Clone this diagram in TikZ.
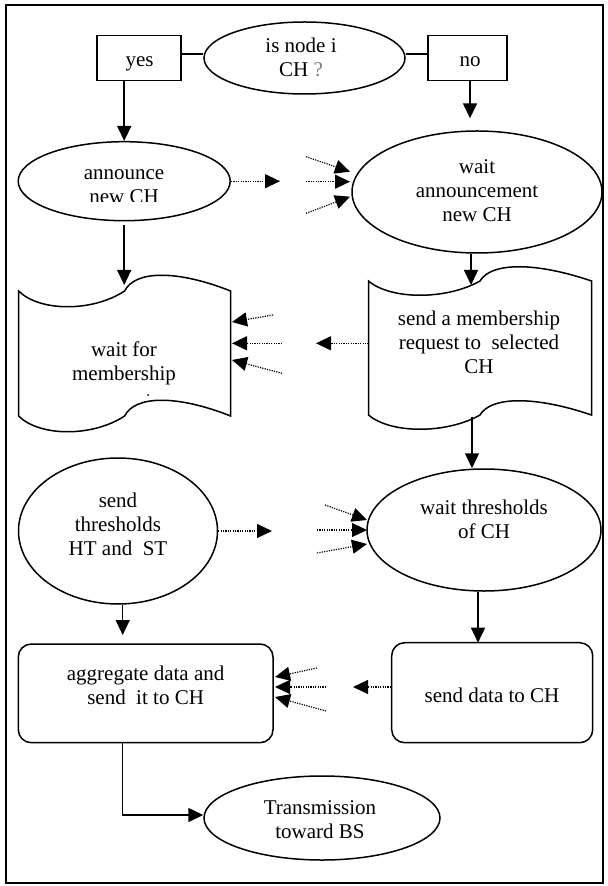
\documentclass[tikz,border=0pt]{standalone}
\usepackage{fontspec}
\setmainfont{Liberation Serif}
\usetikzlibrary{arrows.meta,shapes.geometric,calc}
\tikzset{
  shp/.style={draw, line width=0.75pt, inner sep=0pt},
  ell/.style={shp, ellipse},
  txt/.style={align=center, font=\fontsize{10.5pt}{12pt}\selectfont, inner sep=0pt},
  arr/.style={line width=0.75pt, -{Triangle[length=7.5pt,width=7pt]}},
  darr/.style={line width=0.6pt, dash pattern=on 0.6pt off 0.6pt, -{Triangle[length=7.5pt,width=7pt]}},
}
% L T R H c  (pixel units, y downwards)
\newcommand{\tapepath}[5]{(#1,#2) .. controls ({#1+0.1*(#3-#1)},{#2+#5}) and ({#1+0.35*(#3-#1)},{#2+#5}) .. ({#1+0.5*(#3-#1)},#2)
  .. controls ({#1+0.55*(#3-#1)},{#2-#5}) and ({#1+0.75*(#3-#1)},{#2-#5}) .. (#3,#2)
  -- (#3,{#2+#4})
  .. controls ({#1+0.75*(#3-#1)},{#2+#4-#5}) and ({#1+0.55*(#3-#1)},{#2+#4-#5}) .. ({#1+0.5*(#3-#1)},{#2+#4})
  .. controls ({#1+0.35*(#3-#1)},{#2+#4+#5}) and ({#1+0.1*(#3-#1)},{#2+#4+#5}) .. (#1,{#2+#4}) -- cycle}
\begin{document}
\begin{tikzpicture}[x=0.5pt,y=-0.5pt]
\useasboundingbox (0,0) rectangle (608,886);
\draw[line width=1pt] (5.5,5) rectangle (602.5,883);

% ---- top row
\node[ell, minimum width=100.5pt, minimum height=36pt] (dec) at (304.5,58) {};
\node[txt] (dect) at (301,57.5) {is node i\\CH {\color{gray}?}};
\node[shp, minimum width=42pt, minimum height=22.5pt] (yes) at (139,58.2) {};
\node[txt] (yest) at (139.5,64) {yes};
\node[shp, minimum width=39.5pt, minimum height=22.5pt] (no) at (467.5,58.2) {};
\node[txt] (not) at (470,61.7) {no};
\draw[line width=0.75pt] ([yshift=2pt]yes.east) -- ([yshift=2pt]yes.east -| dec.west);
\draw[line width=0.75pt] ([yshift=2pt]dec.east) -- ([yshift=2pt]dec.east -| no.west);

% ---- announce / wait announcement
\node[ell, minimum width=106pt, minimum height=39.5pt] (ann) at (124.2,181.2) {};
\begin{scope}
  \clip (0,0) rectangle (608,202);
  \node[txt] (annt) at (124,186.2) {announce\\new CH};
\end{scope}
\node[ell, minimum width=125pt, minimum height=61pt] (wann) at (477,192) {};
\node[txt] (wannt) at (477,190.5) {wait\\announcement\\new CH};

% ---- tapes
\draw[line width=0.75pt] \tapepath{18.6}{291}{230.6}{125}{21};
\node[txt] (memb) at (124,363.3) {wait for\\membership};
\fill (148,395) circle (0.5pt);
\draw[line width=0.75pt] \tapepath{368.5}{281}{591.5}{134}{19};
\node[txt] (sreq) at (479,342) {send a membership\\request to~ selected\\CH};

% ---- thresholds
\node[ell, minimum width=99.5pt, minimum height=73pt] (sth) at (118,531) {};
\node[txt] (stht) at (118,524) {send\\thresholds\\HT and~ ST};
\node[ell, minimum width=117pt, minimum height=61pt] (wth) at (484,530) {};
\node[txt] (wtht) at (484,519) {wait thresholds\\of CH};

% ---- data boxes
\node[shp, rounded corners=6.5pt, minimum width=127.35pt, minimum height=49.35pt] (agg) at (145.65,693.35) {};
\node[txt] (aggt) at (145.6,685) {aggregate data and\\send~ it to CH};
\node[shp, rounded corners=6.5pt, minimum width=100.5pt, minimum height=50pt] (sdata) at (492.2,692.7) {};
\node[txt] (sdatat) at (492,695) {send data to CH};

% ---- transmission
\node[ell, minimum width=118pt, minimum height=42pt] (tx) at (322,818) {};
\node[txt] (txt1) at (320,820) {Transmission\\toward BS};

% ---- coordinates for free ends
\coordinate (noend) at (470,118.3);
\coordinate (membtop) at (124.2,285);
\coordinate (stop) at (471,285);
\coordinate (sbot) at (472,417);
\coordinate (sthend) at (122.7,635);
\coordinate (sdtop) at (478,642.7);
\coordinate (aggout) at (122.7,742.7);

% ---- solid connectors
\draw[arr] (yes.south -| ann.north) -- (ann.north);
\draw[arr] (no.south -| noend) -- (noend);
\draw[arr, shorten <=2pt] (ann.south) -- (membtop);
\draw[arr] (wann.south -| stop) -- (stop);
\draw[arr] (sbot) -- (sbot |- wth.north);
\draw[arr] (sth.south -| sthend) -- (sthend);
\draw[arr] (wth.south -| sdtop) -- (sdtop);
\draw[arr] (aggout) |- ([yshift=1.5pt]tx.west);

% ---- dotted connectors
\coordinate (a1) at (280,181.2);
\draw[darr] (ann.east) -- (a1);
\coordinate (b1s) at (306,156.7); \coordinate (b1e) at (350,171.7);
\coordinate (b2s) at (306,181.7); \coordinate (b2e) at (350,181.7);
\coordinate (b3s) at (306,213.3); \coordinate (b3e) at (350,196.7);
\draw[darr] (b1s) -- (b1e);
\draw[darr] (b2s) -- (b2e);
\draw[darr] (b3s) -- (b3e);

\coordinate (c1s) at (368.5,343.3); \coordinate (c1e) at (316,343.3);
\draw[darr] (c1s) -- (c1e);
\coordinate (d1s) at (273,315); \coordinate (d1e) at (232,322);
\coordinate (d2s) at (282,343.3); \coordinate (d2e) at (232,343.3);
\coordinate (d3s) at (282,373.3); \coordinate (d3e) at (232,360);
\draw[darr] (d1s) -- (d1e);
\draw[darr] (d2s) -- (d2e);
\draw[darr] (d3s) -- (d3e);

\coordinate (e1) at (272,531);
\draw[darr] (sth.east) -- (e1);
\coordinate (f1s) at (325,505); \coordinate (f1e) at (367,520);
\coordinate (f2s) at (317,530); \coordinate (f2e) at (367,530);
\coordinate (f3s) at (317,553); \coordinate (f3e) at (367,544);
\draw[darr] (f1s) -- (f1e);
\draw[darr] (f2s) -- (f2e);
\draw[darr] (f3s) -- (f3e);

\coordinate (g1e) at (353,687);
\draw[darr] (sdata.west |- g1e) -- (g1e);
\coordinate (h1s) at (317,668); \coordinate (h1e) at (275,677);
\coordinate (h2s) at (326,687); \coordinate (h2e) at (275,687);
\coordinate (h3s) at (326,711); \coordinate (h3e) at (275,697);
\draw[darr] (h1s) -- (h1e);
\draw[darr] (h2s) -- (h2e);
\draw[darr] (h3s) -- (h3e);
\end{tikzpicture}
\end{document}
